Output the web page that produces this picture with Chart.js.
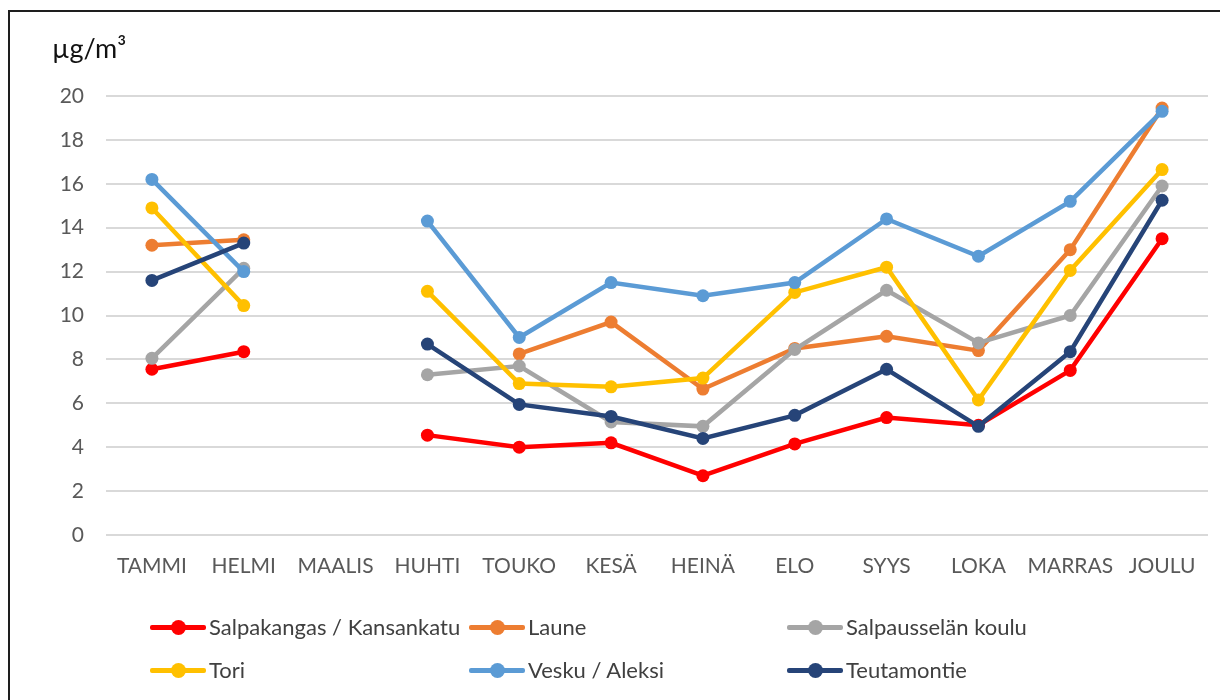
<!DOCTYPE html>
<html>
<head>
  <title>Kuukausikeskiarvot</title>
  <script src="https://cdn.jsdelivr.net/npm/chart.js@4.4.0/dist/chart.umd.min.js"></script>
  <style>
    body { margin: 0; background: #fff; font-family: Lato, 'Open Sans', sans-serif; }
    #wrap { position: relative; width: 1220px; height: 700px; overflow: hidden; }
    #frame { position: absolute; left: 8px; top: 10px; width: 1300px; height: 800px;
             border-left: 2px solid #1e1e1e; border-top: 2px solid #1e1e1e; }
    #myChart { position: absolute; left: 0; top: 0; }
    #unit { position: absolute; left: 52px; top: 31px; font-size: 27px; color: #111; }
    #legend { position: absolute; left: 0; top: 0; }
    .item { position: absolute; display: flex; align-items: center; font-size: 22px; color: #404040; white-space: nowrap; }
    .sym { position: relative; width: 56px; height: 14px; margin-right: 3px; }
    .sym .ln { position: absolute; left: 0; right: 0; top: 5px; height: 5px; border-radius: 2px; }
    .sym .dot { position: absolute; left: 21px; top: 0; width: 15px; height: 15px; border-radius: 50%; }
  </style>
</head>
<body>
<div id="wrap">
  <div id="frame"></div>
  <canvas id="myChart" width="1220" height="700"></canvas>
  <div id="unit">µg/m³</div>
  <div id="legend"></div>
</div>
<script>
  var months = ['TAMMI', 'HELMI', 'MAALIS', 'HUHTI', 'TOUKO', 'KESÄ', 'HEINÄ', 'ELO', 'SYYS', 'LOKA', 'MARRAS', 'JOULU'];

  var salpakangas = [7.55, 8.35, null, 4.55, 4.0, 4.2, 2.7, 4.15, 5.35, 5.0, 7.5, 13.5];
  var laune       = [13.2, 13.45, null, null, 8.25, 9.7, 6.65, 8.5, 9.05, 8.4, 13.0, 19.45];
  var salpausselka = [8.05, 12.15, null, 7.3, 7.7, 5.15, 4.95, 8.45, 11.15, 8.75, 10.0, 15.9];
  var tori        = [14.9, 10.45, null, 11.1, 6.9, 6.75, 7.15, 11.05, 12.2, 6.15, 12.05, 16.65];
  var vesku       = [16.2, 12.0, null, 14.3, 9.0, 11.5, 10.9, 11.5, 14.4, 12.7, 15.2, 19.3];
  var teutamontie = [11.6, 13.3, null, 8.7, 5.95, 5.4, 4.4, 5.45, 7.55, 4.95, 8.35, 15.25];

  var yTicks = [0, 2, 4, 6, 8, 10, 12, 14, 16, 18, 20];

  var seriesNames = ['Salpakangas / Kansankatu', 'Laune', 'Salpausselän koulu', 'Tori', 'Vesku / Aleksi', 'Teutamontie'];
  var seriesData = [salpakangas, laune, salpausselka, tori, vesku, teutamontie];
  var seriesColors = ['#ff0000', '#ed7d31', '#a5a5a5', '#ffc000', '#5b9bd5', '#264478'];

  var datasets = seriesNames.map(function(name, i) {
    return {
      label: name,
      data: seriesData[i],
      borderColor: seriesColors[i],
      backgroundColor: seriesColors[i],
      borderWidth: 4.5,
      pointRadius: 6.5,
      pointHoverRadius: 7,
      pointBorderWidth: 0,
      tension: 0,
      spanGaps: false,
      clip: false,
      order: seriesNames.length - i // later series on top, like the original
    };
  });

  var ctx = document.getElementById('myChart').getContext('2d');
  var myChart = new Chart(ctx, {
    type: 'line',
    data: { labels: months, datasets: datasets },
    options: {
      responsive: false,
      animation: false,
      layout: { padding: { top: 96, right: 12, bottom: 105, left: 0 } },
      plugins: {
        legend: { display: false },
        tooltip: { enabled: false }
      },
      scales: {
        x: {
          offset: true,
          grid: { display: false, drawTicks: false },
          border: { display: false },
          ticks: {
            color: '#595959',
            font: { family: 'Lato', size: 21 },
            padding: 19,
            maxRotation: 0,
            autoSkip: false
          },
          afterFit: function(scale) { scale.height = 60; }
        },
        y: {
          min: 0,
          max: 20,
          afterBuildTicks: function(scale) {
            scale.ticks = yTicks.map(function(v) { return { value: v }; });
          },
          grid: { color: '#d9d9d9', lineWidth: 2, drawTicks: false },
          border: { display: false },
          ticks: {
            color: '#595959',
            font: { family: 'Lato', size: 21 },
            padding: 22
          },
          afterFit: function(scale) { scale.width = 106; }
        }
      }
    }
  });

  // legend in three columns, two rows
  var legendCols = [150, 469, 787];
  var legendRows = [627, 670];
  var legendEl = document.getElementById('legend');
  myChart.data.datasets.forEach(function(ds, i) {
    var item = document.createElement('div');
    item.className = 'item';
    item.style.left = legendCols[i % 3] + 'px';
    item.style.top = (legendRows[Math.floor(i / 3)] - 14) + 'px';
    item.innerHTML = '<span class="sym"><span class="ln" style="background:' + ds.borderColor +
      '"></span><span class="dot" style="background:' + ds.borderColor + '"></span></span>' +
      '<span>' + ds.label + '</span>';
    legendEl.appendChild(item);
  });
</script>
</body>
</html>
